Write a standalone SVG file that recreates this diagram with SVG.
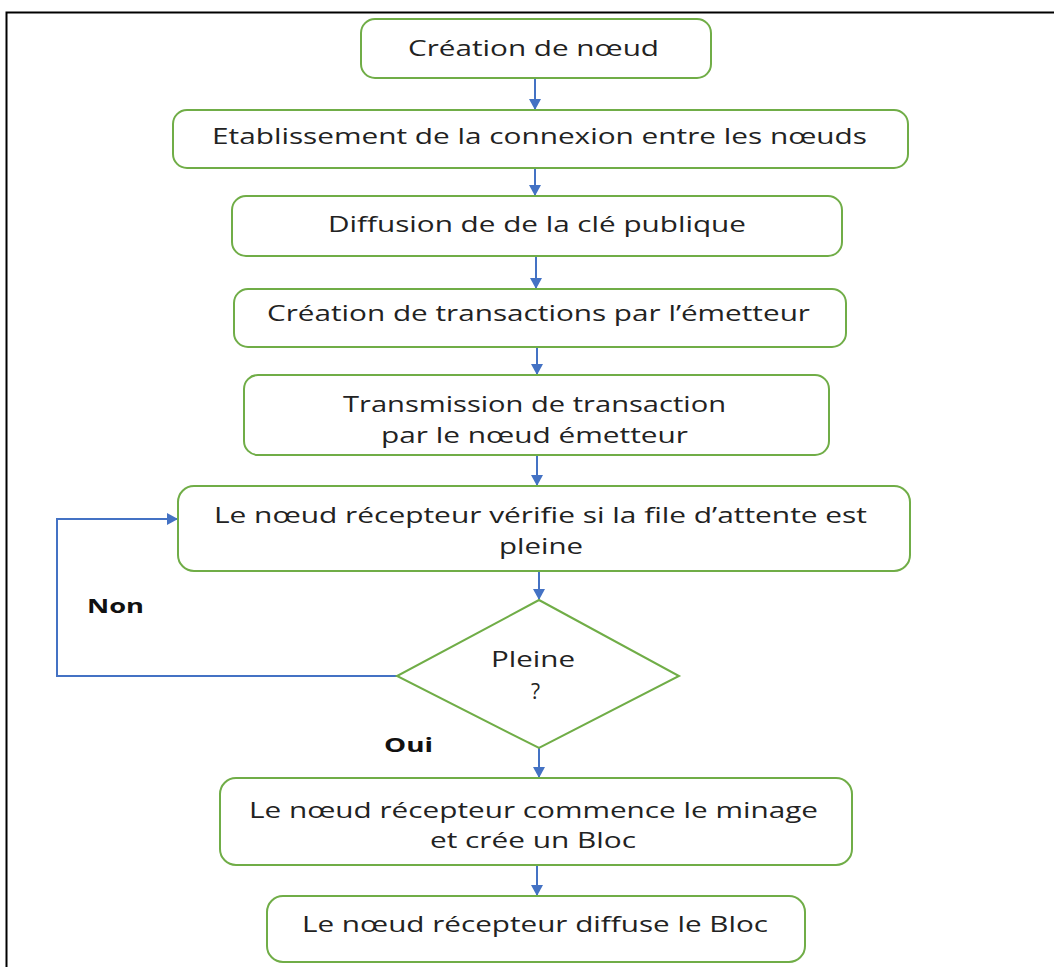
<svg xmlns="http://www.w3.org/2000/svg" width="1054" height="967" viewBox="0 0 1054 967">
<style>
.box{fill:#fff;stroke:#70AD47;stroke-width:2}
.t{font-family:"Open Sans","Liberation Sans",sans-serif;font-size:21px;fill:#222;text-anchor:start}
.b{font-family:"Open Sans","Liberation Sans",sans-serif;font-size:20px;font-weight:bold;fill:#111}
.c{fill:none;stroke:#4472C4;stroke-width:2}
</style>
<defs>
<marker id="ah" markerWidth="12" markerHeight="12" refX="10" refY="6" orient="auto" markerUnits="userSpaceOnUse">
<path d="M0,0 L11,6 L0,12 z" fill="#4472C4"/>
</marker>
</defs>
<rect x="6.5" y="12.5" width="1100" height="1000" fill="none" stroke="#000" stroke-width="2"/>
<g id="connectors">
<line class="c" x1="535" y1="78" x2="535" y2="109" marker-end="url(#ah)"/>
<line class="c" x1="535" y1="168" x2="535" y2="195" marker-end="url(#ah)"/>
<line class="c" x1="536" y1="256" x2="536" y2="288" marker-end="url(#ah)"/>
<line class="c" x1="537" y1="347" x2="537" y2="374" marker-end="url(#ah)"/>
<line class="c" x1="537" y1="455" x2="537" y2="485" marker-end="url(#ah)"/>
<line class="c" x1="539" y1="571" x2="539" y2="599" marker-end="url(#ah)"/>
<line class="c" x1="539" y1="748" x2="539" y2="777" marker-end="url(#ah)"/>
<line class="c" x1="537" y1="865" x2="537" y2="895" marker-end="url(#ah)"/>
<polyline class="c" points="397,676 57,676 57,519 177,519" marker-end="url(#ah)"/>
</g>
<g id="n1"><rect class="box" x="361" y="19" width="350" height="59" rx="14"/>
<text class="t" x="408" y="56" textLength="251" lengthAdjust="spacingAndGlyphs">Création de nœud</text></g>
<g id="n2"><rect class="box" x="173" y="110" width="735" height="58" rx="14"/>
<text class="t" x="212" y="144" textLength="655" lengthAdjust="spacingAndGlyphs">Etablissement de la connexion entre les nœuds</text></g>
<g id="n3"><rect class="box" x="232" y="196" width="610" height="60" rx="14"/>
<text class="t" x="328" y="232" textLength="418" lengthAdjust="spacingAndGlyphs">Diffusion de de la clé publique</text></g>
<g id="n4"><rect class="box" x="234" y="289" width="612" height="58" rx="14"/>
<text class="t" x="267" y="321" textLength="543" lengthAdjust="spacingAndGlyphs">Création de transactions par l’émetteur</text></g>
<g id="n5"><rect class="box" x="244" y="375" width="585" height="80" rx="14"/>
<text class="t" x="343" y="412" textLength="383" lengthAdjust="spacingAndGlyphs">Transmission de transaction</text>
<text class="t" x="381" y="443" textLength="307" lengthAdjust="spacingAndGlyphs">par le nœud émetteur</text></g>
<g id="n6"><rect class="box" x="178" y="486" width="732" height="85" rx="16"/>
<text class="t" x="214" y="523" textLength="653" lengthAdjust="spacingAndGlyphs">Le nœud récepteur vérifie si la file d’attente est</text>
<text class="t" x="499" y="554" textLength="84" lengthAdjust="spacingAndGlyphs">pleine</text></g>
<g id="n7"><polygon class="box" points="539,600 679,676 539,748 397,676"/>
<text class="t" x="491" y="667" textLength="84" lengthAdjust="spacingAndGlyphs">Pleine</text>
<text class="t" x="531" y="699">?</text></g>
<g id="n8"><rect class="box" x="220" y="778" width="632" height="87" rx="16"/>
<text class="t" x="249" y="818" textLength="569" lengthAdjust="spacingAndGlyphs">Le nœud récepteur commence le minage</text>
<text class="t" x="430" y="848" textLength="206" lengthAdjust="spacingAndGlyphs">et crée un Bloc</text></g>
<g id="n9"><rect class="box" x="267" y="896" width="538" height="66" rx="16"/>
<text class="t" x="302" y="932" textLength="466" lengthAdjust="spacingAndGlyphs">Le nœud récepteur diffuse le Bloc</text></g>
<g id="labels">
<text class="b" x="87" y="613" textLength="57" lengthAdjust="spacingAndGlyphs">Non</text>
<text class="b" x="384" y="752" textLength="49" lengthAdjust="spacingAndGlyphs">Oui</text>
</g>
</svg>
